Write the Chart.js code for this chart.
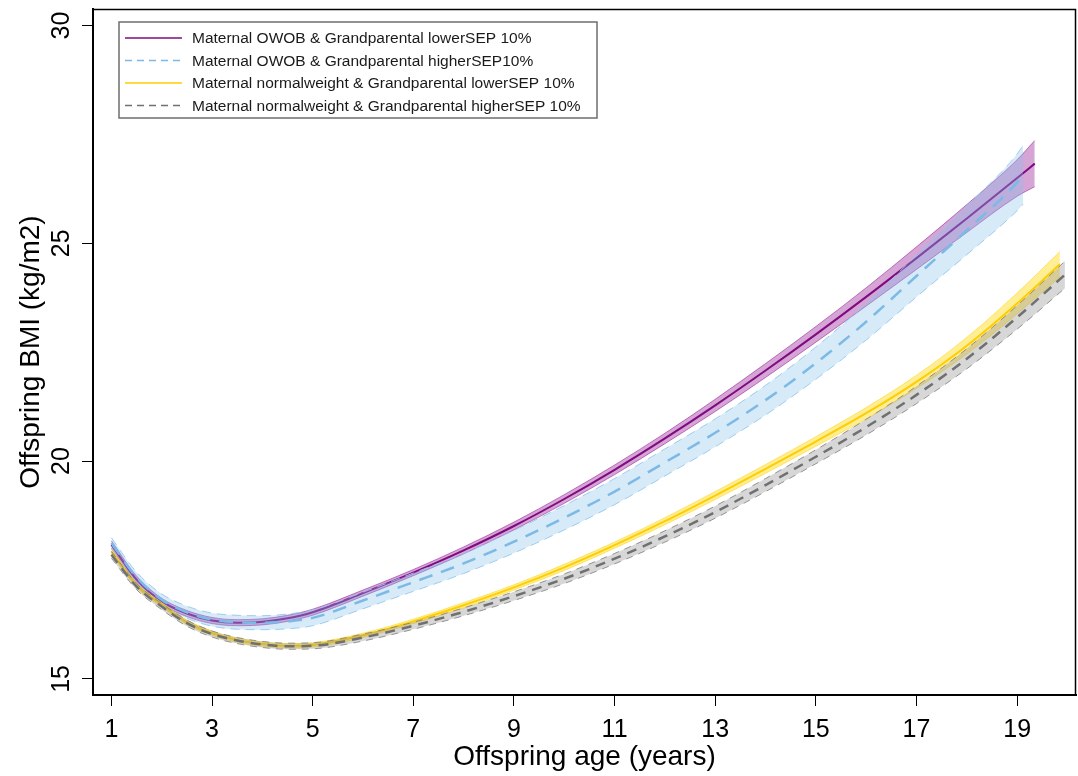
<!DOCTYPE html>
<html>
<head>
<meta charset="utf-8">
<title>Offspring BMI trajectories</title>
<script src="https://cdn.jsdelivr.net/npm/chart.js@4.4.0/dist/chart.umd.min.js"></script>
<style>
  html, body { margin: 0; padding: 0; background: #fff; }
  #wrap { width: 1078px; height: 776px; }
</style>
</head>
<body>
<div id="wrap"><canvas id="bmiChart" width="1078" height="776"></canvas></div>
<script>
// ages shared by all series, plus the last age each curve reaches
const ages = [1, 1.5, 2, 2.5, 3, 3.5, 4, 4.5, 5, 6, 7, 8, 9, 10, 11, 12, 13, 14, 15, 16, 17, 18, 19];
const endAges = [19.35, 19.12, 19.85, 19.95];

const xTicks = [1, 3, 5, 7, 9, 11, 13, 15, 17, 19];
const yTicks = [15, 20, 25, 30];

const legendLabels = [
  "Maternal OWOB & Grandparental lowerSEP 10%",
  "Maternal OWOB & Grandparental higherSEP10%",
  "Maternal normalweight & Grandparental lowerSEP 10%",
  "Maternal normalweight & Grandparental higherSEP 10%",
];

// Maternal OWOB, lower SEP (purple)
const owobLowMean = [18.08, 17.28, 16.78, 16.50, 16.34, 16.29, 16.31, 16.39, 16.53, 16.97, 17.44, 17.95, 18.51, 19.13, 19.80, 20.52, 21.28, 22.08, 22.91, 23.77, 24.66, 25.57, 26.50, 26.83];
const owobLowLo = [17.99, 17.20, 16.71, 16.43, 16.27, 16.22, 16.24, 16.32, 16.46, 16.90, 17.37, 17.87, 18.42, 19.03, 19.69, 20.40, 21.14, 21.92, 22.73, 23.56, 24.40, 25.25, 26.08, 26.30];
const owobLowHi = [18.17, 17.36, 16.85, 16.57, 16.41, 16.36, 16.38, 16.46, 16.60, 17.04, 17.51, 18.03, 18.60, 19.23, 19.91, 20.64, 21.42, 22.24, 23.09, 23.98, 24.92, 25.89, 26.92, 27.36];

// Maternal OWOB, higher SEP (light blue)
const owobHighMean = [18.12, 17.33, 16.82, 16.53, 16.36, 16.30, 16.29, 16.32, 16.40, 16.80, 17.22, 17.65, 18.15, 18.70, 19.30, 19.97, 20.65, 21.40, 22.25, 23.20, 24.25, 25.30, 26.40, 26.58];
const owobHighLo = [18.00, 17.21, 16.69, 16.39, 16.21, 16.14, 16.13, 16.15, 16.22, 16.61, 17.01, 17.42, 17.89, 18.42, 19.00, 19.66, 20.33, 21.06, 21.88, 22.78, 23.77, 24.74, 25.75, 25.90];
const owobHighHi = [18.24, 17.45, 16.95, 16.67, 16.51, 16.46, 16.45, 16.49, 16.58, 16.99, 17.43, 17.88, 18.41, 18.98, 19.60, 20.28, 20.97, 21.74, 22.62, 23.62, 24.73, 25.86, 27.05, 27.26];

// Maternal normal weight, lower SEP (yellow)
const normLowMean = [17.92, 17.15, 16.70, 16.30, 16.05, 15.89, 15.80, 15.76, 15.78, 16.00, 16.32, 16.69, 17.10, 17.56, 18.07, 18.62, 19.21, 19.82, 20.45, 21.10, 21.82, 22.65, 23.62, 24.52];
const normLowLo = [17.86, 17.10, 16.65, 16.25, 16.00, 15.84, 15.75, 15.71, 15.73, 15.95, 16.27, 16.63, 17.04, 17.49, 18.00, 18.54, 19.12, 19.72, 20.34, 20.97, 21.67, 22.46, 23.38, 24.23];
const normLowHi = [17.98, 17.20, 16.75, 16.35, 16.10, 15.94, 15.85, 15.81, 15.83, 16.05, 16.37, 16.75, 17.16, 17.63, 18.14, 18.70, 19.30, 19.92, 20.56, 21.23, 21.97, 22.84, 23.86, 24.81];

// Maternal normal weight, higher SEP (grey)
const normHighMean = [17.85, 17.12, 16.66, 16.28, 16.03, 15.88, 15.79, 15.75, 15.76, 15.95, 16.22, 16.54, 16.90, 17.30, 17.76, 18.27, 18.83, 19.45, 20.10, 20.78, 21.52, 22.35, 23.30, 24.28];
const normHighLo = [17.77, 17.05, 16.59, 16.21, 15.96, 15.81, 15.72, 15.68, 15.69, 15.87, 16.14, 16.45, 16.80, 17.19, 17.64, 18.14, 18.69, 19.30, 19.94, 20.60, 21.32, 22.12, 23.03, 23.97];
const normHighHi = [17.93, 17.19, 16.73, 16.35, 16.10, 15.95, 15.86, 15.82, 15.83, 16.03, 16.30, 16.63, 17.00, 17.41, 17.88, 18.40, 18.97, 19.60, 20.26, 20.96, 21.72, 22.58, 23.57, 24.59];

const FONT = "'Liberation Sans', Arial, Helvetica, sans-serif";

const series = [
  { mean: owobLowMean, lo: owobLowLo, hi: owobLowHi,
    line: "rgb(128, 10, 128)", lineWidth: 2, dash: [],
    fill: "rgba(150, 30, 150, 0.40)", edge: "rgba(150, 30, 150, 0.55)", edgeDash: [] },
  { mean: owobHighMean, lo: owobHighLo, hi: owobHighHi,
    line: "rgb(125, 185, 230)", lineWidth: 2.5, dash: [14, 9],
    fill: "rgba(130, 190, 235, 0.33)", edge: "rgba(150, 200, 238, 0.9)", edgeDash: [9, 6] },
  { mean: normLowMean, lo: normLowLo, hi: normLowHi,
    line: "rgb(255, 205, 0)", lineWidth: 2, dash: [],
    fill: "rgba(255, 215, 0, 0.42)", edge: "rgba(255, 215, 20, 0.6)", edgeDash: [] },
  { mean: normHighMean, lo: normHighLo, hi: normHighHi,
    line: "rgb(112, 112, 112)", lineWidth: 2.5, dash: [10, 7],
    fill: "rgba(150, 150, 150, 0.38)", edge: "rgba(125, 125, 125, 0.8)", edgeDash: [7, 6] },
];

function points(values, endAge) {
  const xs = ages.concat(endAge);
  return values.map((v, i) => ({ x: xs[i], y: v }));
}

const datasets = [];
series.forEach((s, k) => {
  const bandOrder = 8 - k * 2;
  const common = { pointRadius: 0, cubicInterpolationMode: "monotone" };
  datasets.push({ ...common, label: "lo", data: points(s.lo, endAges[k]),
    borderColor: s.edge, borderWidth: 1, borderDash: s.edgeDash, fill: false, order: bandOrder });
  datasets.push({ ...common, label: "hi", data: points(s.hi, endAges[k]),
    borderColor: s.edge, borderWidth: 1, borderDash: s.edgeDash,
    backgroundColor: s.fill, fill: "-1", order: bandOrder });
  datasets.push({ ...common, label: legendLabels[k], data: points(s.mean, endAges[k]),
    borderColor: s.line, borderWidth: s.lineWidth, borderDash: s.dash, fill: false, order: bandOrder - 1 });
});

// frame, rotated y tick labels and the boxed legend
const decorations = {
  id: "decorations",
  afterDraw(chart) {
    const { ctx, chartArea } = chart;
    const yScale = chart.scales.y;
    ctx.save();

    ctx.strokeStyle = "#000";
    ctx.lineWidth = 1.5;
    ctx.beginPath();
    ctx.moveTo(chartArea.left, chartArea.top + 0.5);
    ctx.lineTo(chartArea.right - 0.5, chartArea.top + 0.5);
    ctx.lineTo(chartArea.right - 0.5, chartArea.bottom);
    ctx.stroke();

    ctx.fillStyle = "#000";
    ctx.font = "25px " + FONT;
    ctx.textAlign = "center";
    ctx.textBaseline = "middle";
    yTicks.forEach((v) => {
      ctx.save();
      ctx.translate(62, yScale.getPixelForValue(v));
      ctx.rotate(-Math.PI / 2);
      ctx.fillText(String(v), 0, 0);
      ctx.restore();
    });

    const box = { x: 119, y: 22, w: 478, h: 96 };
    ctx.fillStyle = "#fff";
    ctx.fillRect(box.x, box.y, box.w, box.h);
    ctx.strokeStyle = "#6e6e6e";
    ctx.lineWidth = 1.5;
    ctx.strokeRect(box.x, box.y, box.w, box.h);

    ctx.font = "15.5px " + FONT;
    ctx.textAlign = "left";
    legendLabels.forEach((label, i) => {
      const s = series[i];
      const y = 38 + i * 22.5;
      ctx.strokeStyle = s.line;
      ctx.lineWidth = 1.5;
      ctx.setLineDash(s.dash.length ? [7, 5] : []);
      ctx.beginPath();
      ctx.moveTo(125, y);
      ctx.lineTo(182, y);
      ctx.stroke();
      ctx.setLineDash([]);
      ctx.fillStyle = "#1a1a1a";
      ctx.fillText(label, 192, y + 1);
    });
    ctx.restore();
  },
};

new Chart(document.getElementById("bmiChart"), {
  type: "line",
  data: { datasets },
  plugins: [decorations],
  options: {
    responsive: false,
    animation: false,
    layout: { padding: { top: 9, right: 2, left: 0, bottom: 0 } },
    plugins: { legend: { display: false }, tooltip: { enabled: false } },
    scales: {
      x: {
        type: "linear",
        min: 0.634,
        max: 20.17,
        afterBuildTicks: (scale) => { scale.ticks = xTicks.map((v) => ({ value: v })); },
        afterFit: (scale) => { scale.height = 81; },
        ticks: { color: "#000", font: { family: FONT, size: 25 }, padding: 9, maxRotation: 0, autoSkip: false },
        grid: { drawOnChartArea: false, drawTicks: true, tickLength: 11, color: "#000", lineWidth: 1 },
        border: { display: true, color: "#000", width: 2 },
        title: { display: true, text: "Offspring age (years)", color: "#000",
                 font: { family: FONT, size: 28 }, padding: { top: 0, bottom: 2 } },
      },
      y: {
        type: "linear",
        min: 14.63,
        max: 30.38,
        afterBuildTicks: (scale) => { scale.ticks = yTicks.map((v) => ({ value: v })); },
        afterFit: (scale) => { scale.width = 93; },
        ticks: { display: false },
        grid: { drawOnChartArea: false, drawTicks: true, tickLength: 11, color: "#000", lineWidth: 1 },
        border: { display: true, color: "#000", width: 2 },
        title: { display: true, text: "Offspring BMI (kg/m2)", color: "#000",
                 font: { family: FONT, size: 28 }, padding: { top: 14, bottom: 0 } },
      },
    },
  },
});
</script>
</body>
</html>
